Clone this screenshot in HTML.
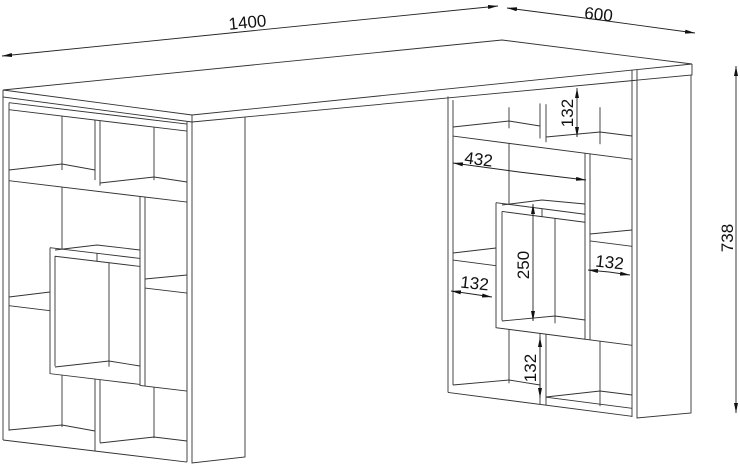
<!DOCTYPE html>
<html><head><meta charset="utf-8"><style>
html,body{margin:0;padding:0;background:#fff;}
svg{display:block;}
text{font-family:"Liberation Sans",sans-serif;fill:#111;}
</style></head><body>
<svg width="740" height="464" viewBox="0 0 740 464" xmlns="http://www.w3.org/2000/svg">
<defs>
<marker id="ar" markerWidth="10" markerHeight="6" refX="10" refY="3" orient="auto" markerUnits="userSpaceOnUse">
<path d="M0,1 L10,3 L0,5 Z" fill="#111"/></marker>
</defs>
<g fill="none" stroke="#333" stroke-width="0.9">
<path d="M3,90 L502,40 L692,64 L192,115 Z" fill="#fff"/>
<path d="M3,90 L3,97 L192,122 L692,75 L692,64"/>
<line x1="192" y1="115" x2="192" y2="122"/>
<path d="M192,122 L192,463 L245,457 L245,117"/>
<line x1="187" y1="122" x2="187" y2="462"/>
<g transform="matrix(1,0.12,0,1,0,-0.36)">
<line x1="3" y1="97" x2="3" y2="440"/>
<line x1="3" y1="440" x2="187" y2="440"/>
<line x1="9" y1="102" x2="9" y2="430"/>
<line x1="9" y1="102" x2="187" y2="102"/>
<line x1="9" y1="109" x2="187" y2="109"/>
<path d="M9,180 L187,180"/>
<line x1="62" y1="109" x2="62" y2="163"/>
<line x1="95" y1="109" x2="95" y2="169"/>
<line x1="100" y1="109" x2="100" y2="174"/>
<line x1="154" y1="109" x2="154" y2="162"/>
<path d="M140,180 L140,369 L187,369 M145,180 L145,369"/>
<path d="M50,242 L50,368 L140,368 M55,250 L55,360 M50,242 L140,242 M55,250 L140,250"/>
<line x1="97" y1="242" x2="97" y2="250"/>
<line x1="109" y1="250" x2="109" y2="354"/>
<line x1="62" y1="180" x2="62" y2="242"/>
<path d="M9,305 L50,305"/>
<path d="M145,271 L187,271"/>
<line x1="62" y1="368" x2="62" y2="420"/>
<line x1="95" y1="368" x2="95" y2="440"/>
<line x1="100" y1="368" x2="100" y2="431"/>
<line x1="154" y1="369" x2="154" y2="420"/>
</g>
<path d="M9,170 L62,164 L95,170"/>
<path d="M100,183 L154,177 L187,182"/>
<path d="M9,430 L62,425 L95,431"/>
<path d="M100,443 L154,437 L187,441"/>
<path d="M55,367 L109,361 L140,366"/>
<path d="M9,297 L50,292"/>
<path d="M145,279 L187,275"/>
<path d="M55,250 L97,245 L140,250"/>
<path d="M637,70 L637,418 L691,413 L691,75"/>
<line x1="632" y1="70" x2="632" y2="417"/>
<g transform="matrix(1,0.13,0,1,0,-58.8)">
<line x1="448" y1="97" x2="448" y2="393"/>
<line x1="448" y1="393" x2="632" y2="393"/>
<line x1="453" y1="100" x2="453" y2="385"/>
<line x1="546" y1="385" x2="632" y2="385"/>
<path d="M453,136 L632,136"/>
<line x1="509" y1="100" x2="509" y2="121"/>
<line x1="540" y1="92" x2="540" y2="127"/>
<line x1="546" y1="92" x2="546" y2="130"/>
<line x1="600" y1="88" x2="600" y2="125"/>
<path d="M585,136 L585,322 L632,322 M590,136 L590,322"/>
<path d="M496,197 L496,322 L585,322 M502,205 L502,314 M496,197 L585,197 M502,205 L585,205"/>
<line x1="542" y1="197" x2="542" y2="205"/>
<line x1="555" y1="205" x2="555" y2="310"/>
<line x1="509" y1="136" x2="509" y2="197"/>
<path d="M453,260 L496,260"/>
<path d="M590,223 L632,223"/>
<line x1="509" y1="322" x2="509" y2="376"/>
<line x1="540" y1="322" x2="540" y2="393"/>
<line x1="546" y1="322" x2="546" y2="393"/>
<line x1="600" y1="322" x2="600" y2="387"/>
</g>
<path d="M453,127 L509,121 L540,126"/>
<path d="M546,137 L600,132 L632,136"/>
<path d="M453,253 L496,248"/>
<path d="M590,234 L632,230"/>
<path d="M502,321 L555,316 L585,320"/>
<path d="M453,385 L509,380 L540,385"/>
<path d="M546,397 L600,391 L632,395"/>
<path d="M502,205 L542,200 L585,204"/>
</g>
<g stroke="#222" stroke-width="0.9" fill="none">
<line x1="250" y1="31" x2="2" y2="56" marker-end="url(#ar)"/>
<line x1="250" y1="31" x2="498" y2="6" marker-end="url(#ar)"/>
<line x1="600" y1="20" x2="507" y2="8" marker-end="url(#ar)"/>
<line x1="600" y1="20" x2="695" y2="33" marker-end="url(#ar)"/>
<line x1="736" y1="240" x2="736" y2="66" marker-end="url(#ar)"/>
<line x1="736" y1="240" x2="736" y2="413" marker-end="url(#ar)"/>
<line x1="577" y1="112" x2="577" y2="88" marker-end="url(#ar)"/>
<line x1="577" y1="112" x2="577" y2="137" marker-end="url(#ar)"/>
<line x1="519" y1="172" x2="453" y2="163" marker-end="url(#ar)"/>
<line x1="519" y1="172" x2="586" y2="180" marker-end="url(#ar)"/>
<line x1="533" y1="263" x2="533" y2="204" marker-end="url(#ar)"/>
<line x1="533" y1="263" x2="533" y2="321" marker-end="url(#ar)"/>
<line x1="609" y1="272" x2="588" y2="270" marker-end="url(#ar)"/>
<line x1="609" y1="272" x2="630" y2="275" marker-end="url(#ar)"/>
<line x1="472" y1="294" x2="451" y2="291" marker-end="url(#ar)"/>
<line x1="472" y1="294" x2="492" y2="297" marker-end="url(#ar)"/>
<line x1="540" y1="367" x2="540" y2="337" marker-end="url(#ar)"/>
<line x1="540" y1="367" x2="540" y2="398" marker-end="url(#ar)"/>
</g>
<g font-size="17">
<text x="248" y="28" transform="rotate(-5.5 248 28)" text-anchor="middle">1400</text>
<text x="598" y="20" transform="rotate(6 598 20)" text-anchor="middle">600</text>
<text x="0" y="0" transform="translate(733,238) rotate(-90)" text-anchor="middle">738</text>
<text x="0" y="0" transform="translate(573,113) rotate(-90)" text-anchor="middle">132</text>
<text x="478" y="165" transform="rotate(7 478 165)" text-anchor="middle">432</text>
<text x="0" y="0" transform="translate(529,265) rotate(-90)" text-anchor="middle">250</text>
<text x="609" y="268" transform="rotate(6 609 268)" text-anchor="middle">132</text>
<text x="474" y="289" transform="rotate(6 474 289)" text-anchor="middle">132</text>
<text x="0" y="0" transform="translate(536,368) rotate(-90)" text-anchor="middle">132</text>
</g>
</svg>
</body></html>
